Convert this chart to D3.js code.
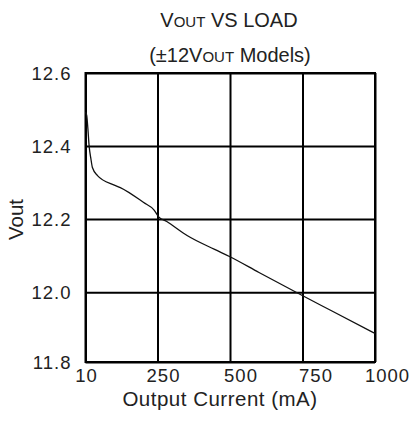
<!DOCTYPE html>
<html>
<head>
<meta charset="utf-8">
<script src="https://cdn.jsdelivr.net/npm/d3@7"></script>
<style>
  html, body { margin: 0; padding: 0; background: #fff; }
  svg { display: block; font-family: "Liberation Sans", Arial, Helvetica, sans-serif; }
</style>
</head>
<body>
<svg id="chart" width="412" height="428"></svg>
<script>
// ---- data ----
const loadCurrent = [10, 14, 18, 22, 28, 33, 50, 106, 126, 204, 238, 254, 282, 352, 447, 500, 600, 728, 850, 1000];
const vout = [12.493, 12.484, 12.447, 12.401, 12.365, 12.341, 12.319, 12.293, 12.286, 12.245, 12.225, 12.206, 12.193, 12.155, 12.117, 12.097, 12.054, 12.0, 11.947, 11.882];
const xTicks = [10, 250, 500, 750, 1000];
const yTicks = [11.8, 12.0, 12.2, 12.4, 12.6];
const titleLine1 = ["V", "OUT", " VS LOAD"];
const titleLine2 = ["(±12V", "OUT", " Models)"];
const xTitle = "Output Current (mA)";
const yTitle = "Vout";

// ---- layout ----
const margin = { left: 85.5, top: 73 };
const w = 289.5, h = 289;
const xPix = [0, 72, 144.5, 217, 289.5];   // grid positions as drawn in the original
const yPix = [289, 219.3, 146, 73, 0];
const svg = d3.select("#chart");
const g = svg.append("g").attr("transform", `translate(${margin.left},${margin.top})`);

const x = d3.scaleLinear().domain(xTicks).range(xPix);
const y = d3.scaleLinear().domain(yTicks).range(yPix);

const fontTick = 18.5;

// grid via axes
const yAxis = g.append("g").call(d3.axisLeft(y).tickValues(yTicks).tickSize(-w).tickFormat(d3.format(".1f")));
yAxis.select(".domain").remove();
yAxis.selectAll(".tick line").attr("stroke", "#000").attr("stroke-width", 2);
yAxis.selectAll(".tick text")
  .attr("x", -14).attr("dy", null).attr("y", 6.5)
  .attr("font-size", fontTick).attr("letter-spacing", 1).attr("fill", "#222")
  .attr("font-family", "Liberation Sans, Arial, sans-serif");

const xNudge = [0.5, 5.5, 10.5, 13, 12];
const xAxis = g.append("g").attr("transform", `translate(0,${h})`)
  .call(d3.axisBottom(x).tickValues(xTicks).tickSize(-h).tickFormat(d3.format("d")));
xAxis.select(".domain").remove();
xAxis.selectAll(".tick line").attr("stroke", "#000").attr("stroke-width", 2);
xAxis.selectAll(".tick text")
  .attr("dy", null).attr("y", 20)
  .attr("x", (d, i) => xNudge[i])
  .attr("font-size", fontTick).attr("letter-spacing", 1).attr("fill", "#222")
  .attr("font-family", "Liberation Sans, Arial, sans-serif");

// frame
g.append("rect").attr("x", 0).attr("y", 0).attr("width", w).attr("height", h)
  .attr("fill", "none").attr("stroke", "#000").attr("stroke-width", 2);

// curve
const line = d3.line().x((d, i) => x(loadCurrent[i])).y(d => y(d)).curve(d3.curveMonotoneX);
g.append("path").attr("d", line(vout)).attr("fill", "none").attr("stroke", "#111").attr("stroke-width", 1.3);

// titles
function titleText(parts, yPos, cx) {
  const t = svg.append("text").attr("x", cx).attr("y", yPos).attr("text-anchor", "middle")
    .attr("font-size", 20).attr("fill", "#222");
  parts.forEach((p, i) => {
    t.append("tspan").attr("font-size", i === 1 ? 15 : 20).text(p);
  });
}
titleText(titleLine1, 27, 229);
titleText(titleLine2, 62, 230);

svg.append("text").attr("x", 220).attr("y", 406).attr("text-anchor", "middle")
  .attr("font-size", 20.5).attr("letter-spacing", 0.5).attr("fill", "#222").text(xTitle);
svg.append("text").attr("transform", "translate(23.3,219.5) rotate(-90)").attr("text-anchor", "middle")
  .attr("font-size", 20.5).attr("fill", "#222").text(yTitle);
</script>
</body>
</html>
